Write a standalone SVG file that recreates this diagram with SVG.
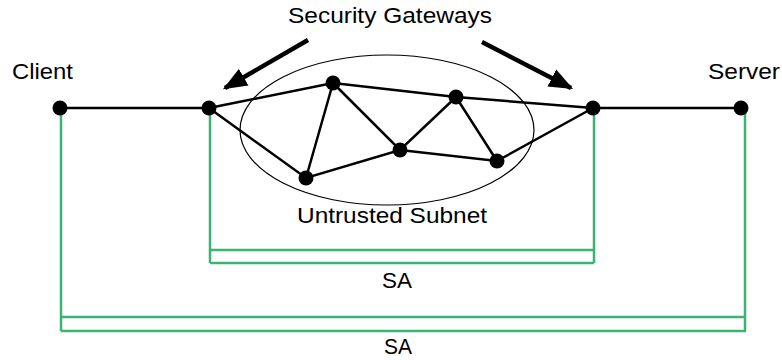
<svg xmlns="http://www.w3.org/2000/svg" width="782" height="360" viewBox="0 0 782 360">
<style>
text{font-family:"Liberation Sans",Arial,sans-serif;font-size:22px;fill:#000}
.e{stroke:#000;stroke-width:2.5;fill:none}
.sa{stroke:#3cb371;stroke-width:2.5;fill:none}
.dot{fill:#000}
.arr{stroke:#000;stroke-width:4.5;fill:none}
</style>
<defs>
<marker id="ah" markerUnits="userSpaceOnUse" markerWidth="24" markerHeight="20" refX="18" refY="8" orient="auto" viewBox="0 0 20 16">
<path d="M0,0 L20,8 L0,16 Z" fill="#000"/>
</marker>
</defs>
<rect width="782" height="360" fill="#fff"/>
<g id="subnet">
<ellipse cx="387" cy="130" rx="147" ry="75" fill="none" stroke="#000" stroke-width="1.2"/>
<text x="392" y="223" text-anchor="middle" textLength="190" lengthAdjust="spacingAndGlyphs">Untrusted Subnet</text>
</g>
<g id="connectors">
<path class="e" d="M60,108 H209 M593,108 H741"/>
<path class="e" d="M209,108 L333,83 L456,97 L593,108 M209,108 L306,178 L400,150 L497,161 L593,108 M333,83 L306,178 M333,83 L400,150 L456,97 L497,161"/>
<path class="sa" d="M210,108 V263 M594,108 V263 M210,250 H594 M210,263 H594"/>
<path class="sa" d="M61,108 V331 M745,108 V331 M61,317 H745 M61,331 H746"/>
<line class="arr" x1="308" y1="40" x2="225" y2="88" marker-end="url(#ah)"/>
<line class="arr" x1="482" y1="42" x2="571" y2="88" marker-end="url(#ah)"/>
</g>
<g id="client"><circle class="dot" cx="60" cy="108" r="7.5"/><text x="12" y="79" textLength="61" lengthAdjust="spacingAndGlyphs">Client</text></g>
<g id="gw1"><circle class="dot" cx="209" cy="108" r="7.5"/></g>
<g id="gw2"><circle class="dot" cx="593" cy="108" r="7.5"/></g>
<g id="server"><circle class="dot" cx="741" cy="108" r="7.5"/><text x="708" y="79" textLength="72" lengthAdjust="spacingAndGlyphs">Server</text></g>
<g id="n1"><circle class="dot" cx="333" cy="83" r="7.5"/></g>
<g id="n2"><circle class="dot" cx="456" cy="97" r="7.5"/></g>
<g id="n3"><circle class="dot" cx="400" cy="150" r="7.5"/></g>
<g id="n4"><circle class="dot" cx="306" cy="178" r="7.5"/></g>
<g id="n5"><circle class="dot" cx="497" cy="161" r="7.5"/></g>
<g id="labels">
<text x="390" y="23" text-anchor="middle" textLength="204" lengthAdjust="spacingAndGlyphs">Security Gateways</text>
<text x="397" y="288" text-anchor="middle" textLength="30" lengthAdjust="spacingAndGlyphs">SA</text>
<text x="398" y="354" text-anchor="middle" textLength="28" lengthAdjust="spacingAndGlyphs">SA</text>
</g>
</svg>
